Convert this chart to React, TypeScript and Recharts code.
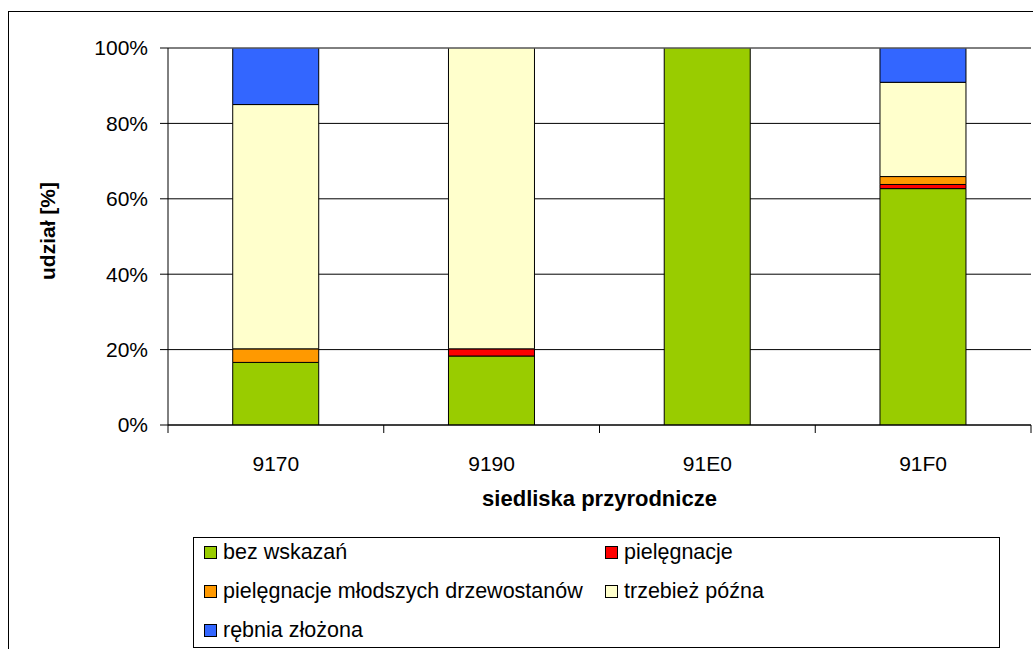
import { BarChart, Bar, XAxis, YAxis, CartesianGrid, ReferenceLine, Label } from "recharts";

const CATEGORIES = ["9170", "9190", "91E0", "91F0"];
const BEZ_WSKAZAN = [16.6, 18.3, 100, 62.7];
const PIELEGNACJE = [0, 1.9, 0, 1.1];
const PIEL_MLODSZYCH = [3.6, 0, 0, 2.1];
const TRZEBIEZ = [64.8, 79.8, 0, 25.0];
const REBNIA = [15.0, 0, 0, 9.1];
const Y_TICKS = [0, 20, 40, 60, 80, 100];

const SERIES = [
  { key: "bez", name: "bez wskazań", color: "#99CC00", values: BEZ_WSKAZAN },
  { key: "piel", name: "pielęgnacje", color: "#FF0000", values: PIELEGNACJE },
  { key: "pielm", name: "pielęgnacje młodszych drzewostanów", color: "#FF9900", values: PIEL_MLODSZYCH },
  { key: "trz", name: "trzebież późna", color: "#FFFFCC", values: TRZEBIEZ },
  { key: "reb", name: "rębnia złożona", color: "#3366FF", values: REBNIA },
];

const data = CATEGORIES.map((c, i) => {
  const row: any = { name: c };
  SERIES.forEach(s => { row[s.key] = s.values[i]; });
  return row;
});

const FONT = "'Liberation Sans', Arial, sans-serif";
const W = 1033;
const H = 649;
const PLOT_LEFT = 168;
const PLOT_RIGHT = 1031;
const BAND = (PLOT_RIGHT - PLOT_LEFT) / CATEGORIES.length;

// category label centred, small ticks on the category boundaries
const XTick = (props: any) => {
  const { x, y, payload } = props;
  const half = BAND / 2;
  return (
    <g>
      <line x1={x - half} x2={x - half} y1={y} y2={y + 8} stroke="#000" />
      {payload.index === CATEGORIES.length - 1 && <line x1={x + half} x2={x + half} y1={y} y2={y + 8} stroke="#000" />}
      <text x={x} y={y + 46} textAnchor="middle" fontSize={21} fill="#000" fontFamily={FONT}>{payload.value}</text>
    </g>
  );
};

const App = () => {
  return (
    <div style={{ position: "fixed", left: 0, top: 0, width: W, height: H, overflow: "hidden", background: "#fff", fontFamily: FONT }}>
      {/* chart area frame, runs off the picture right and bottom */}
      <div style={{ position: "absolute", left: 8, top: 11, width: 1200, height: 800, border: "1px solid #000", boxSizing: "border-box" }} />
      <div style={{ position: "absolute", left: 0, top: 0 }}>
        <BarChart width={W} height={H} data={data} margin={{ top: 48, right: 2, left: 68, bottom: 164 }} barCategoryGap="30%">
          <CartesianGrid vertical={false} stroke="#000" />
          <XAxis dataKey="name" height={60} tickSize={0} tickMargin={0} tickLine={false} axisLine={{ stroke: "#000" }} tick={<XTick />} interval={0}>
            <Label content={(p: any) => {
              const vb = p.viewBox;
              return <text x={vb.x + vb.width / 2} y={506} textAnchor="middle" fontSize={22} fontWeight="bold" fontFamily={FONT} fill="#000">siedliska przyrodnicze</text>;
            }} />
          </XAxis>
          <YAxis domain={[0, 100]} ticks={Y_TICKS} width={100} tickSize={8} tickMargin={12} allowDataOverflow
            tickFormatter={(v: number) => `${v}%`} axisLine={{ stroke: "#000" }} tickLine={{ stroke: "#000" }}
            tick={{ fontSize: 21, fill: "#000", fontFamily: FONT }}>
            <Label content={(p: any) => {
              const vb = p.viewBox;
              const cx = vb.x - 21;
              const cy = 231;
              return <text x={cx} y={cy} transform={`rotate(-90 ${cx} ${cy})`} textAnchor="middle" dominantBaseline="central" fontSize={21} fontWeight="bold" fontFamily={FONT} fill="#000">udział [%]</text>;
            }} />
          </YAxis>
          <YAxis yAxisId="r" orientation="right" width={0} domain={[0, 100]} tick={false} tickLine={false} axisLine={{ stroke: "#808080" }} />
          <ReferenceLine y={100} stroke="#808080" />
          {SERIES.map(s => (
            <Bar key={s.key} dataKey={s.key} name={s.name} stackId="a" fill={s.color} stroke="#000" strokeWidth={1} isAnimationActive={false} />
          ))}
        </BarChart>
      </div>
      {/* legend */}
      <div style={{ position: "absolute", left: 193, top: 537, width: 807, height: 111, border: "1px solid #000", boxSizing: "border-box", background: "#fff" }}>
        {SERIES.map((s, i) => {
          const col = i % 2;
          const row = Math.floor(i / 2);
          const left = col === 0 ? 10 : 411;
          const cy = 14 + row * 39;
          return (
            <div key={s.key} style={{ position: "absolute", left, top: cy - 13, height: 26, display: "flex", alignItems: "center", whiteSpace: "nowrap" }}>
              <span style={{ width: 11, height: 11, background: s.color, border: "1px solid #000", display: "inline-block", marginRight: 6 }} />
              <span style={{ fontSize: 21.5, color: "#000" }}>{s.name}</span>
            </div>
          );
        })}
      </div>
    </div>
  );
};

export default App;
